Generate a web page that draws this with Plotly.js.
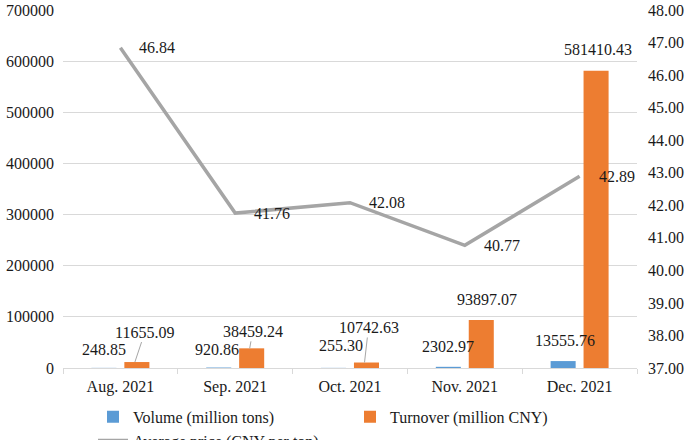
<!DOCTYPE html>
<html>
<head>
<meta charset="utf-8">
<script src="https://cdn.plot.ly/plotly-3.0.1.min.js"></script>
<style>
  html, body { margin: 0; padding: 0; background: #fff; }
  #chart { width: 692px; height: 440px; }
</style>
</head>
<body>
<div id="chart"></div>
<script>
// values
var months = ['Aug. 2021', 'Sep. 2021', 'Oct. 2021', 'Nov. 2021', 'Dec. 2021'];
var volume = [248.85, 920.86, 255.30, 2302.97, 13555.76];
var turnover = [11655.09, 38459.24, 10742.63, 93897.07, 581410.43];
var avgPrice = [46.84, 41.76, 42.08, 40.77, 42.89];

var volumeLabels = ['248.85', '920.86', '255.30', '2302.97', '13555.76'];
var turnoverLabels = ['11655.09', '38459.24', '10742.63', '93897.07', '581410.43'];
var priceLabels = ['46.84', '41.76', '42.08', '40.77', '42.89'];

// label placement (px), kept apart from the data
var volShift = [[-2, 18], [-4, 18], [5, 22], [-2, 20], [0, 21]];
var turnShift = [[10, -30, true], [3, -17, true], [4, -35, true], [8, -20, false], [4, -21, false]];

var txt = '#1a1a1a';
function f(size) { return {family: 'Liberation Serif', size: size, color: txt}; }
var barOff = 14.5; // half slot of a grouped bar, px

var traces = [
  {
    x: months, y: volume, type: 'bar', name: 'Volume (million tons)',
    marker: {color: '#5b9bd5'}, hoverinfo: 'skip'
  },
  {
    x: months, y: turnover, type: 'bar', name: 'Turnover (million CNY)',
    marker: {color: '#ed7d31'}, hoverinfo: 'skip'
  },
  {
    x: months, y: avgPrice, type: 'scatter', mode: 'lines', yaxis: 'y2',
    name: 'Average price (CNY per ton)',
    line: {color: '#a5a5a5', width: 3.5}, hoverinfo: 'skip'
  }
];

var ann = [];
months.forEach(function (m, i) {
  ann.push({
    x: m, y: volume[i], xref: 'x', yref: 'y', text: volumeLabels[i], font: f(16),
    showarrow: false, xanchor: 'center', yanchor: 'middle',
    xshift: -barOff + volShift[i][0], yshift: volShift[i][1]
  });
  var t = turnShift[i];
  if (t[2]) {
    ann.push({
      x: m, y: turnover[i], xref: 'x', yref: 'y', text: turnoverLabels[i], font: f(16),
      showarrow: true, arrowhead: 0, arrowwidth: 1, arrowcolor: '#a6a6a6',
      ax: t[0], ay: t[1], xshift: barOff, standoff: 0,
      xanchor: 'center', yanchor: 'middle'
    });
  } else {
    ann.push({
      x: m, y: turnover[i], xref: 'x', yref: 'y', text: turnoverLabels[i], font: f(16),
      showarrow: false, xanchor: 'center', yanchor: 'middle',
      xshift: barOff + t[0], yshift: -t[1]
    });
  }
  ann.push({
    x: m, y: avgPrice[i], xref: 'x', yref: 'y2', text: priceLabels[i], font: f(16),
    showarrow: false, xanchor: 'left', yanchor: 'middle', xshift: 17
  });
});

var layout = {
  width: 692, height: 440,
  margin: {l: 63, r: 55, t: 10, b: 72, autoexpand: false},
  paper_bgcolor: '#fff', plot_bgcolor: '#fff',
  font: f(16),
  showlegend: true,
  barmode: 'group', bargap: 0.426, bargroupgap: 0.24,
  xaxis: {
    type: 'category', showgrid: false, showline: true, linecolor: '#d9d9d9',
    ticks: 'outside', tickson: 'boundaries', ticklen: 5, tickcolor: '#d9d9d9',
    ticklabelstandoff: 4, tickfont: f(16), zeroline: false, fixedrange: true
  },
  yaxis: {
    range: [0, 700000], dtick: 100000, tickformat: 'd',
    showgrid: true, gridcolor: '#d9d9d9', gridwidth: 1, zeroline: false,
    showline: false, ticks: '', ticklabelstandoff: 8,
    tickfont: f(16), fixedrange: true
  },
  yaxis2: {
    overlaying: 'y', side: 'right', range: [37, 48], dtick: 1, tickformat: '.2f',
    showgrid: false, zeroline: false, showline: false, ticks: '',
    ticklabelstandoff: 10, tickfont: f(16), fixedrange: true
  },
  // fixed entry widths keep all three items on one row
  legend: {
    orientation: 'h', x: 0.5, xanchor: 'center', y: -0.17, yanchor: 'middle',
    font: f(16), itemwidth: 30, tracegroupgap: 0, traceorder: 'normal',
    entrywidth: 212, entrywidthmode: 'pixels'
  },
  annotations: ann
};

Plotly.newPlot('chart', traces, layout, {displayModeBar: false, staticPlot: true});
</script>
</body>
</html>
